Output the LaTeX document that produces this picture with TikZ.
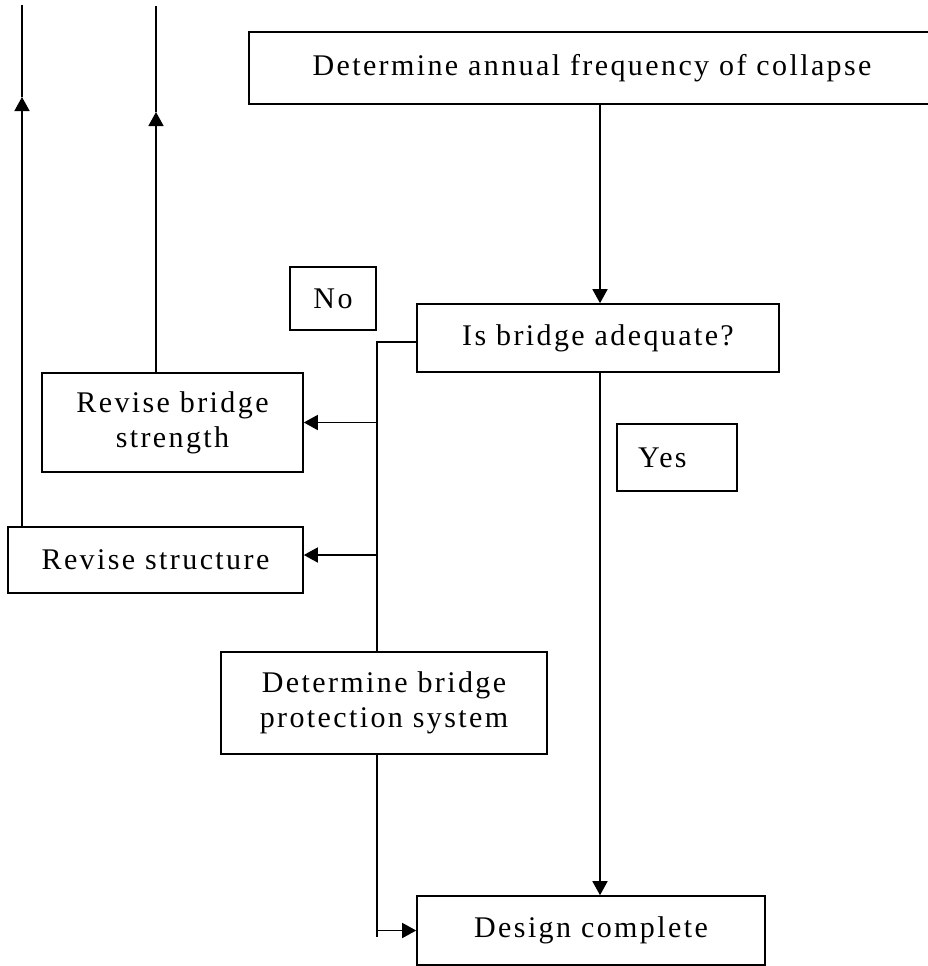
\documentclass[tikz,border=0pt]{standalone}
\usepackage{fontspec}
\setmainfont{Liberation Serif}[LetterSpace=8.0]
\usetikzlibrary{arrows.meta}
\tikzset{
  boxnode/.style={draw, line width=1.6pt, rectangle, inner sep=0pt, align=center,
    font=\fontsize{30}{35}\selectfont},
  conn/.style={line width=1.5pt},
  arr/.style={conn, -{Triangle[length=14pt,width=15pt]}}
}
\begin{document}
\begin{tikzpicture}[x=1pt,y=-1pt]
\useasboundingbox (0,0) rectangle (928,966);
\clip (0,0) rectangle (928,966);
% nodes
\node[boxnode, minimum width=686pt, minimum height=72pt] (top) at (592,68) {Determine annual frequency of collapse};
\node[boxnode, minimum width=362pt, minimum height=68pt] (adequate) at (598,338) {Is bridge adequate?};
\node[boxnode, minimum width=86pt, minimum height=63pt] (no) at (333,298.5) {No};
\node[boxnode, minimum width=120pt, minimum height=67pt] (yes) at (677,457.5) {};
\node[anchor=west, inner sep=0pt, font=\fontsize{30}{35}\selectfont] (yestext) at (638,457.5) {Yes};
\node[boxnode, minimum width=261pt, minimum height=99pt] (rbs) at (172.5,422.5) {Revise bridge\\strength};
\node[boxnode, minimum width=295pt, minimum height=66pt] (rs) at (155.5,560) {Revise structure};
\node[boxnode, minimum width=326pt, minimum height=102pt] (dbp) at (384,703) {Determine bridge\\protection system};
\node[boxnode, minimum width=348pt, minimum height=69pt] (dc) at (591,930.5) {Design complete};
% helper coordinates
\coordinate (cx) at (600,0);
\coordinate (bx) at (377,342);
\coordinate (ry) at (0,555);
\coordinate (endc) at (0,937);
\coordinate (l1top) at (22,5);
\coordinate (l1arr) at (22,97);
\coordinate (l2top) at (156,6);
\coordinate (l2arr) at (156,112);
% connectors
\draw[arr] (top.south -| cx) -- (adequate.north -| cx);
\draw[arr] (adequate.south -| cx) -- (dc.north -| cx);
\draw[conn] (adequate.west |- bx) -- (bx) -- (dbp.north -| bx);
\draw[arr] (bx |- rbs.east) -- (rbs.east);
\draw[arr] (bx |- ry) -- (ry -| rs.east);
\draw[conn] (dbp.south -| bx) -- (bx |- endc);
\draw[arr] (bx |- dc.west) -- (dc.west);
\draw[arr] (rs.north -| l1top) -- (l1arr);
\draw[conn] (l1arr) -- (l1top);
\draw[arr] (rbs.north -| l2top) -- (l2arr);
\draw[conn] (l2arr) -- (l2top);
\end{tikzpicture}
\end{document}
